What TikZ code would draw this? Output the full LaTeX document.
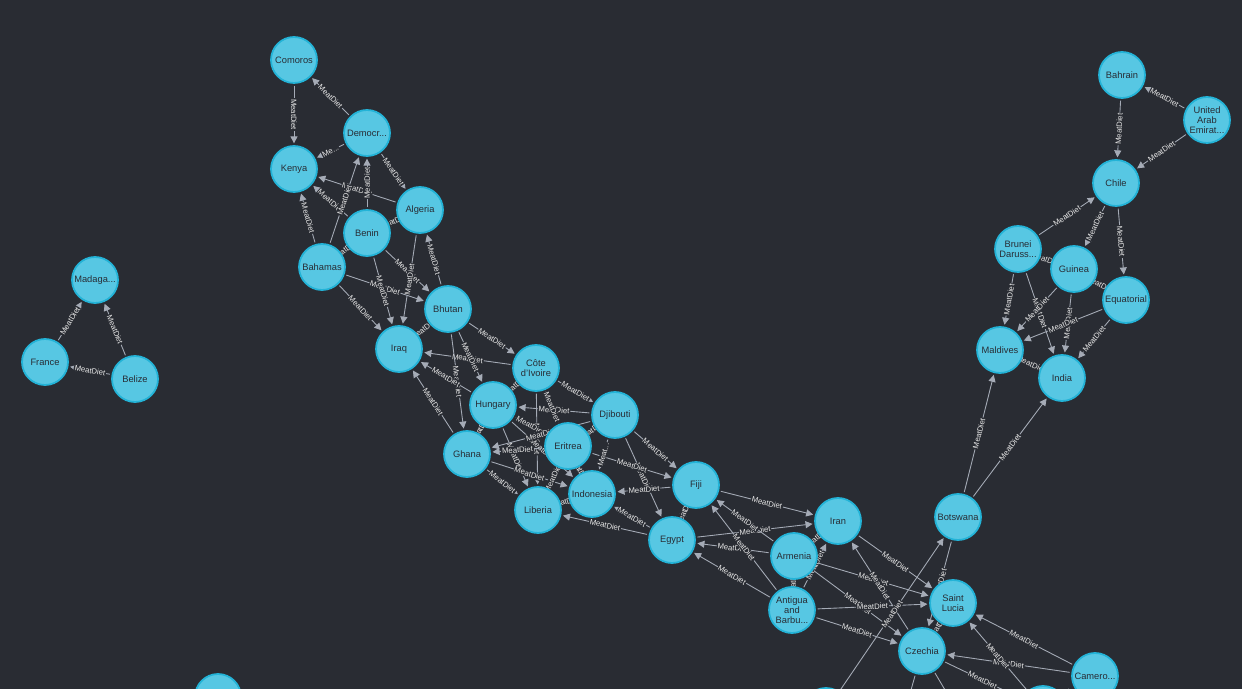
\documentclass[tikz,border=0pt]{standalone}
\usepackage{fontspec}
\setmainfont{Liberation Sans}
\usepackage{tikz}
\usetikzlibrary{arrows.meta}
\definecolor{canvas}{RGB}{41,44,51}
\definecolor{nodefill}{RGB}{87,199,227}
\definecolor{nodeline}{RGB}{35,179,215}
\definecolor{relline}{RGB}{165,171,182}
\definecolor{reltext}{RGB}{232,232,232}
\definecolor{nametext}{RGB}{40,44,52}
\pgfdeclarelayer{bg}
\pgfdeclarelayer{edges}
\pgfsetlayers{bg,edges,main}

\begin{document}
\begin{tikzpicture}[x=0.02cm,y=-0.02cm,
  country/.style={circle,fill=nodefill,draw=nodeline,line width=1pt,minimum size=0.92cm,inner sep=0pt,align=center,text=nametext,font=\fontsize{5.3}{5.7}\selectfont},
  rel/.style={draw=relline,line width=0.5pt,-{Triangle[length=4pt,width=4pt]},shorten >=1pt,shorten <=1pt},
  rellabel/.style={midway,sloped,fill=canvas,inner sep=0.5pt,text=reltext,font=\fontsize{4.4}{4.4}\selectfont}]
  \useasboundingbox (0,0) rectangle (1242,689);
  \begin{pgfonlayer}{bg}
    \fill[canvas] (0,0) rectangle (1242,689);
  \end{pgfonlayer}
  \clip (0,0) rectangle (1242,689);

  \node[country] (madagascar) at (95,280) {Madaga...};
  \node[country] (france) at (45,362) {France};
  \node[country] (belize) at (135,379) {Belize};
  \node[country] (bottomleft) at (218,697) {};

  \node[country] (comoros) at (294,60) {Comoros};
  \node[country] (democr) at (367,133) {Democr...};
  \node[country] (kenya) at (294,169) {Kenya};
  \node[country] (algeria) at (420,210) {Algeria};
  \node[country] (benin) at (367,233) {Benin};
  \node[country] (bahamas) at (322,267) {Bahamas};
  \node[country] (bhutan) at (448,309) {Bhutan};
  \node[country] (iraq) at (399,349) {Iraq};
  \node[country] (cote) at (536,368) {Côte\\d'Ivoire};
  \node[country] (hungary) at (493,405) {Hungary};
  \node[country] (djibouti) at (615,415) {Djibouti};
  \node[country] (eritrea) at (568,446) {Eritrea};
  \node[country] (ghana) at (467,454) {Ghana};
  \node[country] (indonesia) at (592,494) {Indonesia};
  \node[country] (liberia) at (538,510) {Liberia};
  \node[country] (fiji) at (696,485) {Fiji};
  \node[country] (egypt) at (672,540) {Egypt};
  \node[country] (iran) at (838,521) {Iran};
  \node[country] (armenia) at (794,556) {Armenia};
  \node[country] (antigua) at (792,610) {Antigua\\and\\Barbu...};
  \node[country] (botswana) at (958,517) {Botswana};
  \node[country] (stlucia) at (953,603) {Saint\\Lucia};
  \node[country] (czechia) at (922,651) {Czechia};
  \node[country] (cameroon) at (1095,676) {Camero...};
  \node[country] (bottommid) at (826,711) {};
  \node[country] (bottomright) at (1043,709) {};
  \coordinate (offa) at (880,800);
  \coordinate (offb) at (1010,800);

  \node[country] (bahrain) at (1122,75) {Bahrain};
  \node[country] (uae) at (1207,120) {United\\Arab\\Emirat...};
  \node[country] (chile) at (1116,183) {Chile};
  \node[country] (brunei) at (1018,249) {Brunei\\Daruss...};
  \node[country] (guinea) at (1074,269) {Guinea};
  \node[country] (equatorial) at (1126,300) {Equatorial};
  \node[country] (maldives) at (1000,350) {Maldives};
  \node[country] (india) at (1062,378) {India};

  \begin{pgfonlayer}{edges}
    \foreach \a/\b in {france/madagascar,belize/madagascar,belize/france,
      uae/bahrain,bahrain/chile,uae/chile,brunei/chile,chile/guinea,chile/equatorial,
      brunei/guinea,guinea/equatorial,brunei/maldives,brunei/india,guinea/maldives,
      guinea/india,equatorial/maldives,equatorial/india,india/maldives,
      botswana/maldives,botswana/india,
      comoros/kenya,democr/comoros,democr/algeria,algeria/kenya,benin/kenya,
      bahamas/kenya,benin/democr,bahamas/democr,benin/algeria,benin/bahamas,
      benin/bhutan,algeria/iraq,bhutan/algeria,bahamas/bhutan,benin/iraq,
      bahamas/iraq,bhutan/iraq,bhutan/cote,cote/iraq,bhutan/hungary,bhutan/ghana,
      hungary/iraq,ghana/iraq,cote/hungary,cote/djibouti,djibouti/hungary,
      cote/liberia,cote/eritrea,eritrea/hungary,hungary/ghana,hungary/liberia,
      hungary/indonesia,eritrea/ghana,djibouti/ghana,ghana/liberia,ghana/indonesia,
      eritrea/liberia,indonesia/eritrea,djibouti/eritrea,indonesia/liberia,
      egypt/liberia,egypt/indonesia,djibouti/fiji,djibouti/egypt,eritrea/fiji,
      fiji/indonesia,egypt/fiji,egypt/iran,fiji/iran,armenia/fiji,armenia/egypt,
      antigua/fiji,antigua/egypt,armenia/antigua,antigua/iran,armenia/iran,
      armenia/stlucia,armenia/czechia,antigua/stlucia,antigua/czechia,
      iran/stlucia,czechia/iran,czechia/stlucia,bottommid/botswana,
      botswana/czechia,cameroon/stlucia,cameroon/czechia,
      bottomright/stlucia,czechia/bottomright}
      \draw[rel] (\a) -- node[rellabel] {MeatDiet} (\b);
    \draw[rel] (democr) -- node[rellabel] {Me...} (kenya);
    \draw[rel] (djibouti) -- node[rellabel] {Meat...} (indonesia);
    \draw[rel] (cameroon) -- (bottomright);
    \draw[rel] (czechia) -- (offa);
    \draw[rel] (czechia) -- (offb);
  \end{pgfonlayer}
\end{tikzpicture}
\end{document}
